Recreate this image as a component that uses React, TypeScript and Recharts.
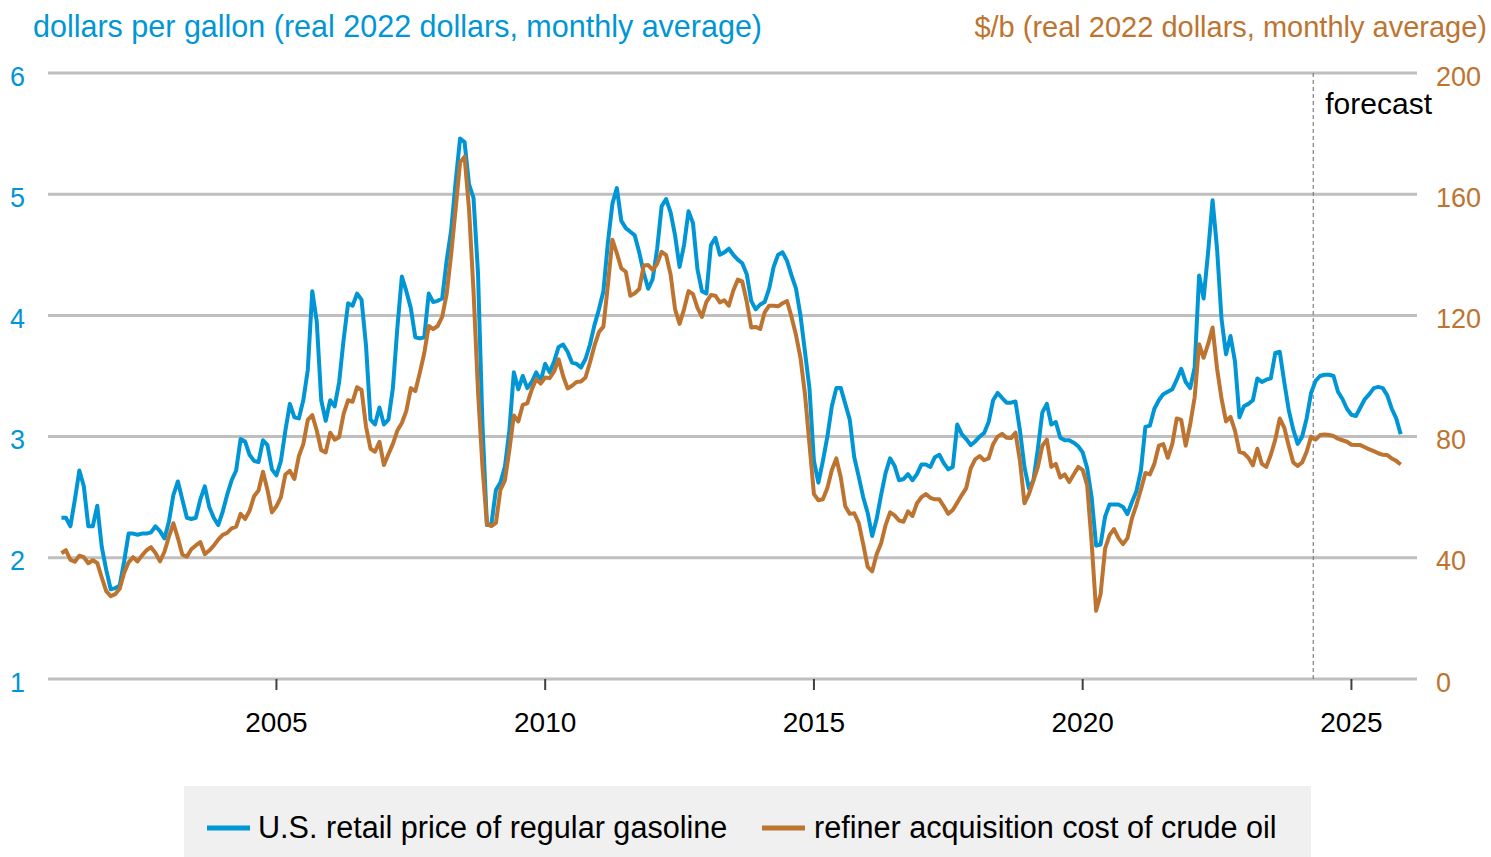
import { LineChart, Line, XAxis, YAxis, CartesianGrid, ReferenceLine } from "recharts";

const BLUE = "#0096d6";
const BROWN = "#bd7430";
const FONT = "'Liberation Sans', Arial, sans-serif";

const startYear = 2001;

// U.S. retail price of regular gasoline, $/gal (real 2022), one row per year Jan..Dec
const gasoline = [
  2.33, 2.33, 2.26, 2.48, 2.72, 2.59, 2.26, 2.26, 2.43, 2.09, 1.9, 1.74, // 2001
  1.75, 1.77, 1.97, 2.2, 2.2, 2.19, 2.2, 2.2, 2.21, 2.26, 2.22, 2.16, // 2002
  2.3, 2.52, 2.63, 2.48, 2.33, 2.32, 2.33, 2.48, 2.59, 2.42, 2.33, 2.27, // 2003
  2.38, 2.52, 2.64, 2.72, 2.98, 2.96, 2.85, 2.8, 2.79, 2.97, 2.93, 2.73, // 2004
  2.68, 2.8, 3.05, 3.27, 3.16, 3.15, 3.3, 3.55, 4.2, 3.95, 3.3, 3.13, // 2005
  3.3, 3.25, 3.45, 3.8, 4.1, 4.08, 4.18, 4.13, 3.75, 3.14, 3.1, 3.24, // 2006
  3.1, 3.14, 3.4, 3.9, 4.32, 4.2, 4.06, 3.82, 3.81, 3.82, 4.18, 4.11, // 2007
  4.12, 4.14, 4.45, 4.7, 5.1, 5.46, 5.43, 5.08, 4.97, 4.35, 3.1, 2.27, // 2008
  2.28, 2.56, 2.62, 2.75, 3.05, 3.53, 3.39, 3.5, 3.4, 3.45, 3.53, 3.46, // 2009
  3.6, 3.53, 3.62, 3.74, 3.76, 3.7, 3.61, 3.6, 3.57, 3.64, 3.76, 3.92, // 2010
  4.05, 4.2, 4.6, 4.92, 5.05, 4.78, 4.72, 4.69, 4.66, 4.52, 4.35, 4.22, // 2011
  4.3, 4.55, 4.9, 4.96, 4.85, 4.66, 4.4, 4.58, 4.86, 4.76, 4.38, 4.2, // 2012
  4.18, 4.58, 4.64, 4.5, 4.52, 4.55, 4.5, 4.46, 4.43, 4.34, 4.12, 4.05, // 2013
  4.09, 4.11, 4.22, 4.4, 4.5, 4.52, 4.45, 4.33, 4.22, 4.0, 3.7, 3.4, // 2014
  2.8, 2.62, 2.8, 3.0, 3.25, 3.4, 3.4, 3.27, 3.14, 2.83, 2.67, 2.5, // 2015
  2.37, 2.18, 2.32, 2.52, 2.7, 2.82, 2.76, 2.64, 2.65, 2.69, 2.64, 2.69, // 2016
  2.77, 2.77, 2.75, 2.83, 2.85, 2.78, 2.73, 2.75, 3.1, 3.02, 2.98, 2.93, // 2017
  2.96, 3.0, 3.03, 3.12, 3.3, 3.36, 3.32, 3.28, 3.28, 3.29, 3.05, 2.75, // 2018
  2.57, 2.64, 2.9, 3.2, 3.27, 3.1, 3.12, 2.99, 2.97, 2.97, 2.95, 2.92, // 2019
  2.87, 2.74, 2.5, 2.1, 2.11, 2.34, 2.44, 2.44, 2.44, 2.42, 2.36, 2.46, // 2020
  2.55, 2.72, 3.08, 3.09, 3.23, 3.3, 3.35, 3.37, 3.39, 3.47, 3.56, 3.45, // 2021
  3.4, 3.57, 4.33, 4.14, 4.52, 4.95, 4.55, 3.97, 3.68, 3.83, 3.62, 3.16, // 2022
  3.25, 3.27, 3.3, 3.48, 3.45, 3.47, 3.48, 3.69, 3.7, 3.45, 3.22, 3.06, // 2023
  2.94, 3.0, 3.15, 3.36, 3.46, 3.5, 3.51, 3.51, 3.5, 3.37, 3.31, 3.23, // 2024
  3.18, 3.17, 3.24, 3.31, 3.35, 3.4, 3.41, 3.4, 3.34, 3.23, 3.15, 3.02, // 2025
];

// refiner acquisition cost of crude oil, $/b (real 2022), one row per year Jan..Dec
const crudeOil = [
  41.5, 42.5, 39.3, 38.7, 40.7, 40.2, 38.2, 39.2, 38.3, 33.5, 29, 27.3, // 2001
  28, 29.8, 35, 38.5, 40.2, 38.8, 40.8, 42.5, 43.5, 41.6, 38.8, 42, // 2002
  47, 51.4, 46.5, 41, 40.4, 42.8, 44.1, 45.2, 41.2, 42.4, 44, 46, // 2003
  47.6, 48.2, 49.7, 50.3, 54.5, 52.8, 55.5, 60.3, 62.2, 68.4, 62.4, 55, // 2004
  57, 60, 67.5, 68.7, 66, 73.5, 77.5, 85.5, 87.1, 82, 75.5, 74.8, // 2005
  81.3, 79, 79.8, 87.5, 92, 91.5, 96.3, 95.4, 83.3, 76, 75, 78.3, // 2006
  70.6, 74.2, 77.6, 82, 84.5, 88.5, 96, 95, 101, 107.5, 116.5, 115.5, // 2007
  116.5, 119.5, 127, 140, 155, 170.5, 172.4, 155, 128, 95, 70, 51, // 2008
  50.5, 51.5, 62.4, 65.5, 75.5, 87, 85, 90.5, 91, 95.5, 99, 97.5, // 2009
  99.5, 99.3, 101.5, 105.5, 100, 95.9, 96.8, 98, 98.2, 99.5, 104.5, 110, // 2010
  114.5, 116.3, 130, 145, 140.5, 135.5, 134.4, 126.5, 127.3, 128.7, 136.5, 136.6, // 2011
  135, 137, 141, 139.9, 133.5, 122, 117.2, 122, 128, 127, 122.5, 119.5, // 2012
  124.5, 126.7, 126.5, 124.3, 125, 123.2, 128.2, 131.8, 131.2, 124.5, 116, 116.2, // 2013
  115.5, 121, 123.2, 123.2, 123, 124, 124.7, 119.5, 113.5, 106, 94, 77.5, // 2014
  61, 59, 59.3, 63, 69, 72.8, 66.5, 57, 54.5, 54.7, 51.5, 44.5, // 2015
  37, 35.5, 41.2, 44.8, 50.8, 55, 54, 52.3, 51.9, 55.3, 53.8, 58, // 2016
  60, 61, 59.8, 59.3, 59.3, 57, 54.5, 55.8, 58.2, 60.7, 63, 69.5, // 2017
  72.5, 73.6, 72.2, 72.8, 77.5, 80, 80.9, 79.6, 79.5, 81.3, 72, 58, // 2018
  61, 65.5, 70, 77, 79, 70, 71, 66.5, 67.5, 65, 67.5, 70, // 2019
  69, 64, 45, 22.5, 28, 43, 47.5, 49.5, 46.5, 44.5, 46.5, 53, // 2020
  57.5, 62.5, 68, 67.5, 71, 77, 77.5, 73, 77.5, 86, 85.5, 77, // 2021
  84, 93, 110.5, 106, 110.5, 116, 102.5, 92.5, 85, 86.5, 82, 75, // 2022
  74.5, 73, 70.5, 76, 71, 70, 74, 79, 86, 83, 77, 71.5, // 2023
  70.3, 71.5, 75, 80, 79, 80.5, 80.7, 80.5, 80.2, 79.3, 78.8, 78.3, // 2024
  77.3, 77.2, 77.2, 76.5, 75.8, 75.2, 74.5, 74, 73.9, 72.8, 72, 70.8, // 2025
];

const yearTicks = [2005, 2010, 2015, 2020, 2025];
const gasTicks = [1, 2, 3, 4, 5, 6];
const crudeTicks = [0, 40, 80, 120, 160, 200];
const forecastStart = 2024.29;

const seriesNames = ["U.S. retail price of regular gasoline", "refiner acquisition cost of crude oil"];

const data = gasoline.map((g, i) => ({
  t: startYear + i / 12,
  gasoline: g,
  crude: crudeOil[i],
}));

function ForecastLabel(props: any) {
  const x = props.viewBox?.x ?? 0;
  return (
    <text x={x + 12} y={114} fill="#000" fontSize={30} fontFamily={FONT}>
      forecast
    </text>
  );
}

export default function App() {
  return (
    <div style={{ position: "absolute", left: 0, top: 0, width: 1491, height: 857, background: "#fff", fontFamily: FONT }}>
      <LineChart width={1491} height={857} data={data} margin={{ top: 73, right: 0, left: 0, bottom: 118 }}>
        <CartesianGrid yAxisId="gas" vertical={false} stroke="#bfbfbf" strokeWidth={3} />
        <XAxis
          dataKey="t"
          type="number"
          domain={[2000.75, 2026.22]}
          ticks={yearTicks}
          axisLine={false}
          tickSize={11}
          tickLine={{ stroke: "#404040", strokeWidth: 2 }}
          tickMargin={22}
          height={60}
          tick={{ fill: "#000", fontSize: 28, fontFamily: FONT }}
          allowDataOverflow
        />
        <YAxis
          yAxisId="gas"
          domain={[1, 6]}
          ticks={gasTicks}
          width={48}
          axisLine={false}
          tickLine={false}
          tickSize={0}
          tickMargin={23}
          tick={{ fill: BLUE, fontSize: 27, fontFamily: FONT, dy: 3 }}
        />
        <YAxis
          yAxisId="crude"
          orientation="right"
          domain={[0, 200]}
          ticks={crudeTicks}
          width={74}
          axisLine={false}
          tickLine={false}
          tickSize={0}
          tickMargin={19}
          tick={{ fill: BROWN, fontSize: 27, fontFamily: FONT, dy: 3 }}
        />
        <ReferenceLine
          yAxisId="gas"
          x={forecastStart}
          stroke="#808080"
          strokeWidth={1.2}
          strokeDasharray="4 3"
          label={<ForecastLabel />}
        />
        <Line
          yAxisId="gas"
          type="linear"
          dataKey="gasoline"
          name={seriesNames[0]}
          stroke={BLUE}
          strokeWidth={4}
          strokeLinejoin="round"
          dot={false}
          isAnimationActive={false}
        />
        <Line
          yAxisId="crude"
          type="linear"
          dataKey="crude"
          name={seriesNames[1]}
          stroke={BROWN}
          strokeWidth={4}
          strokeLinejoin="round"
          dot={false}
          isAnimationActive={false}
        />
      </LineChart>

      <svg width={1491} height={60} style={{ position: "absolute", left: 0, top: 0, pointerEvents: "none" }}>
        <text x={33} y={37} fill={BLUE} fontSize={30.5} fontFamily={FONT}>
          dollars per gallon (real 2022 dollars, monthly average)
        </text>
        <text x={1487} y={37} fill={BROWN} fontSize={29} fontFamily={FONT} textAnchor="end">
          $/b (real 2022 dollars, monthly average)
        </text>
      </svg>

      <div style={{ position: "absolute", left: 184, top: 786, width: 1127, height: 71, background: "#f0f0f0" }}>
        <svg width={1127} height={71}>
          <line x1={23} x2={66} y1={42} y2={42} stroke={BLUE} strokeWidth={5} />
          <text x={74} y={52} fontSize={30.6} fontFamily={FONT} fill="#000">
            {seriesNames[0]}
          </text>
          <line x1={578} x2={621} y1={42} y2={42} stroke={BROWN} strokeWidth={5} />
          <text x={630} y={52} fontSize={30.6} fontFamily={FONT} fill="#000">
            {seriesNames[1]}
          </text>
        </svg>
      </div>
    </div>
  );
}
